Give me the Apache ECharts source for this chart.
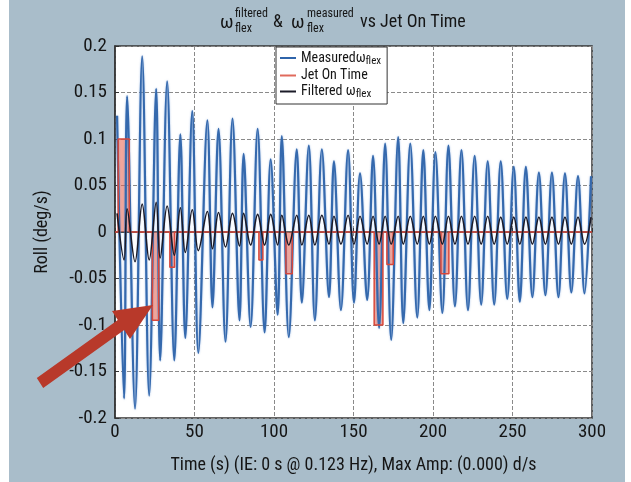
<!DOCTYPE html>
<html><head><meta charset="utf-8">
<script src="https://cdn.jsdelivr.net/npm/echarts@6/dist/echarts.min.js"></script>
<style>html,body{margin:0;padding:0;background:#fff}#c{width:631px;height:482px}</style>
</head><body><div id="c"></div><script>
const FONT = "'Roboto Condensed', sans-serif";

// x ticks / y ticks
const xTicks = [0, 50, 100, 150, 200, 250, 300];
const yTicks = [-0.2, -0.15, -0.1, -0.05, 0, 0.05, 0.1, 0.15, 0.2];

// Measured omega_flex: peaks and troughs (time s, deg/s)
const measPeakT = [1.3,7.6,17.1,25.9,32.8,41.1,48.6,58.1,65.1,73.9,
  80.9,89.7,97.9,104.9,114.3,121.9,130.1,137.7,146.6,154.1,
  162.3,169.9,178.1,185.7,193.9,201.5,209.7,217.9,226.2,234.4,
  242.6,250.8,258.4,266.6,274.8,283.0,291.2,299.4];
const measPeakV = [0.125,0.146,0.189,0.154,0.162,0.105,0.130,0.12,0.111,0.122,
  0.084,0.111,0.078,0.103,0.089,0.093,0.089,0.076,0.088,0.063,
  0.082,0.095,0.102,0.095,0.088,0.086,0.093,0.088,0.082,0.076,
  0.076,0.070,0.070,0.064,0.064,0.063,0.060,0.060];
const measTroughT = [5.7,12.6,21.5,28.4,37.3,44.2,52.4,61.3,69.5,78.3,
  85.3,94.1,102.3,109.3,117.5,125.7,134.6,142.1,150.3,158.6,
  166.1,173.7,181.3,190.1,197.7,205.9,213.8,222.0,230.3,238.5,
  246.7,254.6,262.5,270.7,278.9,287.0,295.3];
const measTroughV = [-0.179,-0.19,-0.176,-0.138,-0.138,-0.114,-0.130,-0.081,-0.118,-0.095,
  -0.102,-0.108,-0.089,-0.113,-0.076,-0.095,-0.070,-0.084,-0.076,-0.073,
  -0.103,-0.116,-0.098,-0.092,-0.084,-0.087,-0.080,-0.084,-0.078,-0.078,
  -0.072,-0.075,-0.070,-0.068,-0.070,-0.065,-0.066];

// Filtered omega_flex: values at the same cycle extrema
const filtPeakV = [0.020,0.025,0.030,0.032,0.028,0.026,0.024,0.022,0.021,0.020,
  0.020,0.019,0.019,0.018,0.018,0.018,0.018,0.017,0.018,0.017,
  0.017,0.017,0.017,0.017,0.017,0.017,0.017,0.017,0.017,0.017,
  0.016,0.016,0.016,0.016,0.016,0.016,0.016,0.016];
const filtTroughV = [-0.030,-0.032,-0.030,-0.028,-0.025,-0.022,-0.020,-0.018,-0.016,-0.015,
  -0.014,-0.014,-0.014,-0.014,-0.014,-0.014,-0.013,-0.013,-0.013,-0.013,
  -0.013,-0.013,-0.013,-0.013,-0.013,-0.013,-0.013,-0.013,-0.013,-0.013,
  -0.013,-0.013,-0.013,-0.013,-0.013,-0.013,-0.013];

// Jet On Time pulses
const jetStart = [2.0, 23.5, 34.5, 90.5, 107.5, 163.0, 171.0, 205.0];
const jetEnd   = [9.0, 27.5, 37.5, 93.0, 111.5, 168.5, 175.0, 210.0];
const jetAmp   = [0.10, -0.095, -0.038, -0.03, -0.045, -0.10, -0.035, -0.045];

function merge(pt, pv, tt, tv) {
  const a = pt.map((t, i) => [t, pv[i]]).concat(tt.map((t, i) => [t, tv[i]]));
  a.sort((p, q) => p[0] - q[0]);
  return a;
}
const measured = merge(measPeakT, measPeakV, measTroughT, measTroughV);
const filtered = merge(measPeakT, filtPeakV, measTroughT, filtTroughV);
const jet = [[0, 0]];
jetStart.forEach((s, i) => { jet.push([s, 0], [s, jetAmp[i]], [jetEnd[i], jetAmp[i]], [jetEnd[i], 0]); });
jet.push([300, 0]);

const chart = echarts.init(document.getElementById('c'), null, {renderer: 'canvas'});
const txt = (x, y, s, size) => ({type: 'text', x: x, y: y, z: 100,
  style: {text: s, fontSize: size, fontFamily: FONT, fill: '#151515', verticalAlign: 'middle'}});
const arrow = [[36.8,377.9],[117.8,319.9],[112,311],[153,305],[130,339],[124.2,330.1],[43.2,388.1]];

chart.setOption({
  backgroundColor: '#a9bdca',
  animation: false,
  grid: {left: 115, right: 39, top: 46, bottom: 64, show: true, backgroundColor: '#fff', borderColor: '#333', borderWidth: 1.5},
  legend: {
    orient: 'vertical', left: 276, top: 47, itemGap: 2, itemWidth: 16, itemHeight: 2,
    backgroundColor: '#fff', borderColor: '#333', borderWidth: 1, padding: [4, 6, 4, 4],
    icon: 'rect',
    data: ['Measured', 'Jet On Time', 'Filtered'],
    formatter: function (n) {
      if (n === 'Measured') return '{m|Measured\u03c9}{s|flex}';
      if (n === 'Filtered') return '{m|Filtered \u03c9}{s|flex}';
      return '{m|Jet On Time}';
    },
    textStyle: {
      fontFamily: FONT, color: '#151515',
      rich: {
        m: {fontSize: 14, fontFamily: FONT, lineHeight: 17, verticalAlign: 'middle'},
        s: {fontSize: 11, fontFamily: FONT, lineHeight: 11, verticalAlign: 'bottom'}
      }
    }
  },
  xAxis: {
    type: 'value', min: 0, max: 300, interval: 50,
    axisLine: {show: true, lineStyle: {color: '#333', width: 1.5}},
    axisTick: {show: true, inside: true, length: 4, lineStyle: {color: '#333'}},
    axisLabel: {fontFamily: FONT, fontSize: 19, color: '#151515', margin: 5,
      formatter: v => xTicks.indexOf(v) >= 0 ? String(v) : ''},
    splitLine: {show: true, lineStyle: {color: '#8a8a8a', type: 'dashed', width: 1}},
    name: 'Time (s) (IE: 0 s @ 0.123 Hz), Max Amp: (0.000) d/s',
    nameLocation: 'middle', nameGap: 38,
    nameTextStyle: {fontFamily: FONT, fontSize: 18, color: '#151515'}
  },
  yAxis: {
    type: 'value', min: -0.2, max: 0.2, interval: 0.05,
    axisLine: {show: true, lineStyle: {color: '#333', width: 1.5}},
    axisTick: {show: true, inside: true, length: 4, lineStyle: {color: '#333'}},
    axisLabel: {fontFamily: FONT, fontSize: 19, color: '#151515', margin: 8,
      formatter: v => { const r = Math.round(v * 100) / 100; return yTicks.indexOf(r) >= 0 ? String(r) : ''; }},
    splitLine: {show: true, lineStyle: {color: '#8a8a8a', type: 'dashed', width: 1}},
    name: 'Roll (deg/s)', nameLocation: 'middle', nameGap: 64,
    nameTextStyle: {fontFamily: FONT, fontSize: 18, color: '#151515'}
  },
  series: [
    {name: 'Measured', type: 'line', data: measured, showSymbol: false, smooth: 0.35,
      color: '#2f64aa',
      lineStyle: {color: '#3569ad', width: 2.2, shadowBlur: 2, shadowColor: 'rgba(90,140,210,0.6)'}},
    {name: 'Jet On Time', type: 'line', data: jet, showSymbol: false,
      color: '#e06a5c',
      lineStyle: {color: '#d8473a', width: 1.5},
      areaStyle: {color: 'rgba(232,96,76,0.8)', origin: 0}},
    {name: 'Filtered', type: 'line', data: filtered, showSymbol: false, smooth: 0.35,
      color: '#1b1b28',
      lineStyle: {color: '#1b1b28', width: 1.6}}
  ],
  graphic: [
    {type: 'rect', shape: {x: 0, y: 0, width: 9, height: 482}, style: {fill: '#fff'}, z: 0, silent: true},
    {type: 'rect', shape: {x: 625, y: 0, width: 6, height: 482}, style: {fill: '#fff'}, z: 0, silent: true},
    txt(220, 23, '\u03c9', 19),
    txt(235, 14, 'filtered', 12),
    txt(235, 29, 'flex', 12),
    txt(273, 22, '&', 18),
    txt(291, 23, '\u03c9', 19),
    txt(307, 14, 'measured', 12),
    txt(307, 29, 'flex', 12),
    txt(360, 22, 'vs Jet On Time', 18),
    {type: 'polygon', z: 100, shape: {points: arrow}, style: {fill: '#b8392a'}}
  ]
});
</script></body></html>
